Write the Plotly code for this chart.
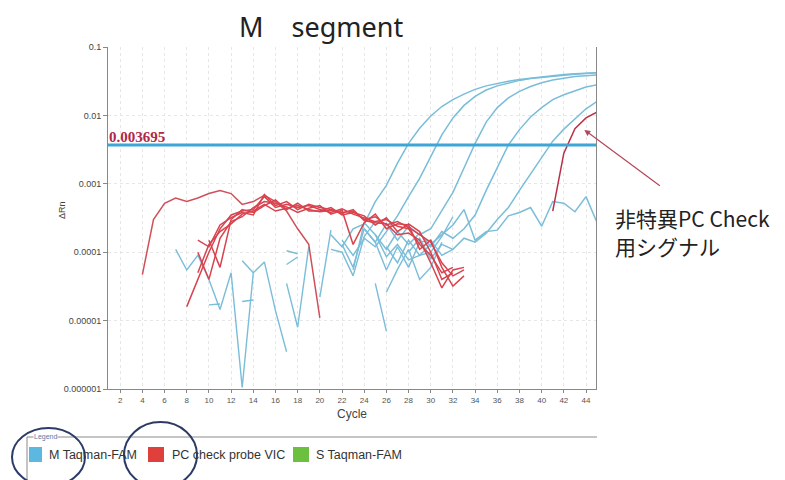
import plotly.graph_objects as go

# ---------------- data (cycle-indexed) ----------------
tick_cycles = list(range(2, 46, 2))
y_tickvals = [1e-6, 1e-5, 1e-4, 1e-3, 1e-2, 1e-1]
y_ticktext = ["0.000001", "0.00001", "0.0001", "0.001", "0.01", "0.1"]
threshold = 0.003695

# M Taqman-FAM amplified curves: (start cycle, values)
m_amp_a = (21, [1.8e-4, 1.2e-4, 2.2e-4, 2.6e-4, 5.5e-4, 9.5e-4, 2.0e-3, 3.9e-3, 6.5e-3, 9.8e-3,
                1.35e-2, 1.7e-2, 2.05e-2, 2.4e-2, 2.7e-2, 2.95e-2, 3.15e-2, 3.35e-2, 3.5e-2,
                3.65e-2, 3.8e-2, 3.95e-2, 4.05e-2, 4.15e-2, 4.2e-2])
m_amp_b = (22, [1.5e-4, 9e-5, 1.6e-4, 1.2e-4, 2.0e-4, 3.4e-4, 6.5e-4, 1.2e-3, 2.5e-3, 5.2e-3,
                9.2e-3, 1.4e-2, 1.9e-2, 2.35e-2, 2.7e-2, 3.0e-2, 3.25e-2, 3.45e-2, 3.6e-2,
                3.75e-2, 3.9e-2, 4.0e-2, 4.1e-2, 4.2e-2])
m_amp_c = (24, [2.2e-4, 1.4e-4, 2.6e-4, 1.5e-4, 2.4e-4, 1.8e-4, 2.2e-4, 4.0e-4, 7.5e-4, 1.7e-3,
                3.9e-3, 8.0e-3, 1.3e-2, 1.8e-2, 2.25e-2, 2.65e-2, 3.0e-2, 3.3e-2, 3.5e-2,
                3.7e-2, 3.8e-2, 3.9e-2])
m_amp_d = (25, [1.8e-4, 1.1e-4, 2.0e-4, 1.3e-4, 1.9e-4, 1.2e-4, 2.0e-4, 1.6e-4, 2.2e-4, 3.5e-4,
                8.0e-4, 1.7e-3, 3.7e-3, 6.2e-3, 9.5e-3, 1.3e-2, 1.7e-2, 2.0e-2, 2.3e-2,
                2.6e-2, 2.8e-2])
m_amp_e = (28, [1.0e-4, 1.6e-4, 8e-5, 1.3e-4, 1.1e-4, 1.6e-4, 1.4e-4, 1.9e-4, 3.0e-4, 4.5e-4,
                8.0e-4, 1.4e-3, 2.5e-3, 4.2e-3, 6.3e-3, 9.0e-3, 1.25e-2, 1.6e-2])
m_flat = (26, [1.2e-4, 7e-5, 1.5e-4, 9e-5, 1.3e-4, 1.8e-4, 2.5e-4, 4.2e-4, 1.5e-4, 2.0e-4,
               2.1e-4, 3.4e-4, 3.8e-4, 4.5e-4, 2.4e-4, 5.5e-4, 5.2e-4, 3.9e-4, 6.5e-4, 2.7e-4])

# M Taqman-FAM noise fragments
m_noise = [
    (7, [1.1e-4, 5.5e-5, 9e-5, 4e-5, 1.45e-5, 5e-5, 1.05e-6, 5e-5, 7.2e-5, 1.4e-5, 3.5e-6]),
    (10, [1.7e-5, 1.75e-5]),
    (13, [7.5e-5, 5e-5]),
    (13, [1.9e-5, 2.0e-5]),
    (17, [1.05e-4, 9.5e-5]),
    (17, [6.6e-5, 8.5e-5]),
    (17, [3.5e-5, 8e-6, 1.2e-4]),
    (20, [2.2e-5, 2.1e-4]),
    (21, [1.1e-4, 1.0e-4, 4.5e-5, 1.7e-4, 2.8e-4]),
    (25, [3.5e-5, 7e-6]),
    (22, [1.3e-4, 6e-5, 2.2e-4, 1.4e-4, 5.5e-5, 1.2e-4, 6e-5, 1.4e-4, 1.5e-4, 9e-5, 1.1e-4]),
    (23, [5.5e-5, 2.7e-4, 1.8e-4, 8.6e-5, 1.3e-4, 7.7e-5, 9e-5, 1.0e-4, 1.7e-4, 3.3e-4]),
    (26, [2.6e-5, 5.6e-5, 1.1e-4, 4e-5, 6e-5, 1.4e-4]),
]

# PC check probe VIC
pc_early = (4, [4.7e-5, 3.0e-4, 5.2e-4, 6.2e-4, 5.5e-4, 6.2e-4, 7.2e-4, 8.0e-4, 7.2e-4, 5.0e-4,
                5.5e-4, 6.8e-4, 5.5e-4, 4.0e-4, 2.2e-4, 1.3e-4, 1.1e-5])
pc_bundle = [
    (8, [1.6e-5, 4e-5, 1.0e-4, 2.2e-4, 3.5e-4, 4.0e-4, 4.2e-4, 6.5e-4, 4.5e-4, 5.0e-4, 4.5e-4,
         4.8e-4, 4.2e-4, 3.8e-4, 4.3e-4, 3.6e-4, 3.2e-4, 2.8e-4, 3.0e-4, 2.4e-4, 2.2e-4,
         1.3e-4, 9e-5, 5e-5, 6e-5]),
    (9, [1.5e-4, 1.2e-4, 2.5e-4, 3.2e-4, 3.8e-4, 3.5e-4, 7.0e-4, 4.8e-4, 5.5e-4, 4.2e-4,
         5.0e-4, 4.5e-4, 4.2e-4, 3.8e-4, 4.0e-4, 3.0e-4, 3.3e-4, 2.5e-4, 2.8e-4, 2.3e-4,
         1.8e-4, 1.4e-4, 7e-5, 4.5e-5, 5.5e-5]),
    (9, [1.0e-4, 4e-5, 1.6e-4, 2.8e-4, 3.3e-4, 4.5e-4, 5.5e-4, 5.2e-4, 4.6e-4, 3.8e-4,
         4.4e-4, 4.8e-4, 3.6e-4, 4.1e-4, 1.3e-4, 2.7e-4, 3.6e-4, 2.2e-4, 2.6e-4, 2.5e-4,
         1.1e-4, 1.5e-4, 6e-5, 3.2e-5, 4.5e-5]),
    (10, [1.5e-4, 6e-5, 3.0e-4, 4.2e-4, 3.8e-4, 4.8e-4, 5.8e-4, 4.2e-4, 5.2e-4, 4.0e-4,
          4.0e-4, 4.5e-4, 3.5e-4, 3.8e-4, 3.4e-4, 2.5e-4, 3.2e-4, 2.0e-4, 2.6e-4, 2.0e-4,
          1.0e-4, 4e-5, 5e-5]),
    (9, [5e-5, 1.3e-4, 2.0e-4, 2.6e-4, 3.6e-4, 4.0e-4, 5.0e-4, 4.0e-4, 4.4e-4, 4.8e-4,
         4.2e-4, 3.9e-4, 4.1e-4, 3.7e-4, 4.2e-4, 2.9e-4, 2.7e-4, 2.6e-4, 1.8e-4, 1.9e-4,
         1.5e-4, 7e-5, 3e-5, 5.5e-5, 6e-5]),
]
pc_late = (41, [4.0e-4, 2.8e-3, 6.4e-3, 9.2e-3, 1.12e-2])

legend_labels = ["M Taqman-FAM", "PC check probe VIC", "S Taqman-FAM"]
legend_colors = ["#5cb8e0", "#e0403c", "#6cc040"]
callout_lines = ["非特異PC Check", "用シグナル"]

# ---------------- figure ----------------
BLUE = "#79bdd9"
RED = "#d8434e"
PAGE_OFF = 8                      # default body margin of the html page
W, H = 785 - PAGE_OFF, 480 - PAGE_OFF
L, R, T, B = 108, 596, 47, 389    # plot area in page pixels


def xp(px):
    return (px - L) / (R - L)


def yp(py):
    return (B - py) / (B - T)


fig = go.Figure()


def add(series, color, width=1.5):
    start, vals = series
    fig.add_trace(go.Scatter(x=list(range(start, start + len(vals))), y=vals, mode="lines",
                             line=dict(color=color, width=width), showlegend=False,
                             hoverinfo="skip"))


for s in m_noise:
    add(s, BLUE, 1.4)
for s in [m_flat, m_amp_a, m_amp_b, m_amp_c, m_amp_d, m_amp_e]:
    add(s, BLUE, 1.5)
add(pc_early, "#d0505a", 1.5)
for s in pc_bundle:
    add(s, RED, 1.5)
add(pc_late, "#b83048", 1.5)

# threshold line
fig.add_trace(go.Scatter(x=[0.9, 44.9], y=[threshold, threshold], mode="lines",
                         line=dict(color="#3ea6d6", width=3.2), showlegend=False,
                         hoverinfo="skip"))

shapes = []
# legend box lines
shapes.append(dict(type="line", xref="paper", yref="paper", x0=xp(27), x1=xp(597),
                   y0=yp(437), y1=yp(437), line=dict(color="#8a8a8a", width=1)))
shapes.append(dict(type="line", xref="paper", yref="paper", x0=xp(27), x1=xp(27),
                   y0=yp(437), y1=yp(482), line=dict(color="#8a8a8a", width=1)))
sq = [(29, 42), (148, 164), (293, 309)]
for (a, b), c in zip(sq, legend_colors):
    shapes.append(dict(type="rect", xref="paper", yref="paper", x0=xp(a), x1=xp(b),
                       y0=yp(462), y1=yp(447), fillcolor=c, line=dict(width=0)))
# hand-drawn ellipses
shapes.append(dict(type="circle", xref="paper", yref="paper", x0=xp(12), x1=xp(85),
                   y0=yp(486), y1=yp(428), line=dict(color="#2b3a67", width=2)))
shapes.append(dict(type="circle", xref="paper", yref="paper", x0=xp(124), x1=xp(197),
                   y0=yp(488), y1=yp(422), line=dict(color="#2b3a67", width=2)))

ann = []
ann.append(dict(text="M\u00a0\u00a0\u00a0\u00a0segment", xref="paper", yref="paper", x=xp(321),
                y=yp(27), xanchor="center", yanchor="middle", showarrow=False,
                font=dict(family="Noto Sans", size=27, color="#222")))
ann.append(dict(text="<b>0.003695</b>", xref="paper", yref="y", x=0,
                y=-2.4324, xanchor="left", yanchor="bottom", showarrow=False, borderpad=0,
                yshift=-1, font=dict(family="Liberation Serif", size=15, color="#b02848")))
ann.append(dict(text="ΔRn", xref="paper", yref="paper", x=xp(62), y=yp(210), textangle=-90,
                showarrow=False, xanchor="center", yanchor="middle",
                font=dict(family="Liberation Sans", size=9, color="#444")))
ann.append(dict(text="Cycle", xref="paper", yref="paper", x=xp(352), y=yp(414),
                showarrow=False, xanchor="center", yanchor="middle",
                font=dict(family="Liberation Sans", size=12, color="#444")))
ann.append(dict(text="Legend", xref="paper", yref="paper", x=xp(33), y=yp(437),
                showarrow=False, xanchor="left", yanchor="middle", bgcolor="white",
                borderpad=0, font=dict(family="Liberation Sans", size=7, color="#5a78a8")))
tx = [47, 170, 314]
for t, lab in zip(tx, legend_labels):
    ann.append(dict(text=lab, xref="paper", yref="paper", x=xp(t), y=yp(455),
                    showarrow=False, xanchor="left", yanchor="middle",
                    font=dict(family="Liberation Sans", size=12.5, color="#333")))
# Japanese callout (two lines)
for line_txt, cy in zip(callout_lines, [218, 246]):
    ann.append(dict(text=line_txt, xref="paper", yref="paper", x=xp(614), y=yp(cy),
                    showarrow=False, xanchor="left", yanchor="middle", borderpad=0,
                    font=dict(family="Noto Sans CJK JP", size=21, color="#222")))
ann.append(dict(text="", x=43.85, y=-2.212, xref="x", yref="y", showarrow=True,
                ax=77, ay=57, axref="pixel", ayref="pixel", arrowhead=2, arrowsize=1,
                arrowwidth=1.2, arrowcolor="#b5475a"))

fig.update_layout(
    width=W, height=H,
    margin=dict(l=L - PAGE_OFF, r=W - (R - PAGE_OFF), t=T - PAGE_OFF, b=H - (B - PAGE_OFF)),
    paper_bgcolor="white", plot_bgcolor="white",
    showlegend=False,
    shapes=shapes, annotations=ann,
    xaxis=dict(range=[0.9, 44.9], tickvals=tick_cycles, ticks="outside", ticklen=3,
               tickcolor="#888", showline=True, linecolor="#888", linewidth=1,
               showgrid=True, gridcolor="#e6e6e6", griddash="dot", zeroline=False,
               tickfont=dict(family="Liberation Sans", size=8, color="#555")),
    yaxis=dict(type="log", range=[-6, -1], tickvals=y_tickvals, ticktext=y_ticktext,
               ticks="outside", ticklen=4, tickcolor="#888", showline=True,
               linecolor="#888", linewidth=1, mirror=True,
               showgrid=True, gridcolor="#e6e6e6", griddash="dot", zeroline=False,
               tickfont=dict(family="Liberation Sans", size=9, color="#444")),
)

fig.write_html("out.html")
